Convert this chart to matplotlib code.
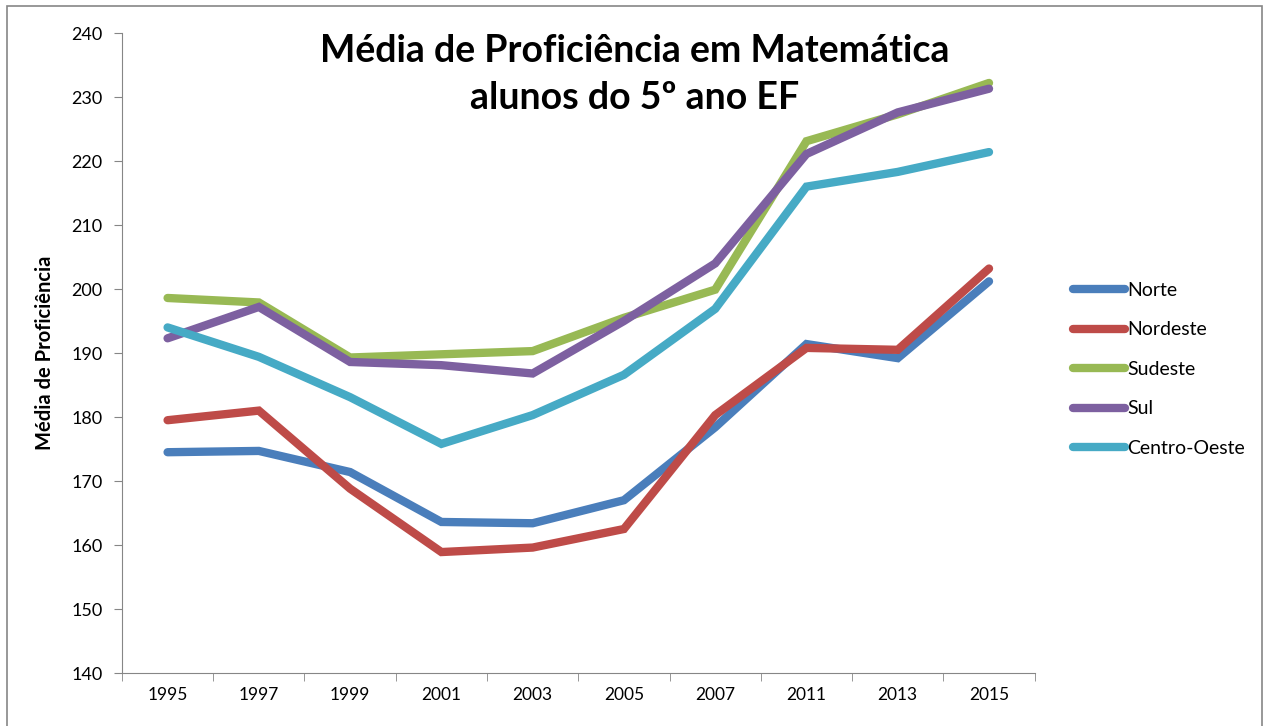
import numpy as np
import matplotlib
matplotlib.use("Agg")
import matplotlib.pyplot as plt
from matplotlib.patches import Rectangle

YEARS = ["1995", "1997", "1999", "2001", "2003", "2005", "2007", "2011", "2013", "2015"]

norte        = [174.5, 174.7, 171.4, 163.6, 163.4, 167.0, 178.4, 191.4, 189.2, 201.2]
nordeste     = [179.5, 181.0, 168.8, 158.9, 159.6, 162.5, 180.3, 190.8, 190.5, 203.2]
sudeste      = [198.6, 197.9, 189.3, 189.8, 190.3, 195.5, 199.9, 223.1, 227.3, 232.2]
sul          = [192.3, 197.2, 188.6, 188.1, 186.8, 195.0, 204.0, 221.1, 227.6, 231.3]
centro_oeste = [194.0, 189.4, 183.1, 175.8, 180.3, 186.6, 196.9, 216.0, 218.3, 221.4]

SERIES = [
    ("Norte",        norte,        "#4A7EBB"),
    ("Nordeste",     nordeste,     "#BE4B48"),
    ("Sudeste",      sudeste,      "#98B954"),
    ("Sul",          sul,          "#7D60A0"),
    ("Centro-Oeste", centro_oeste, "#46AAC5"),
]

plt.rcParams["font.family"] = ["Lato", "DejaVu Sans"]

fig = plt.figure(figsize=(12.65, 7.26), dpi=100)
ax = fig.add_axes([0.0964, 0.073, 0.7215, 0.8815])

x = np.arange(len(YEARS))
for name, vals, color in SERIES:
    ax.plot(x, vals, color=color, lw=6, solid_capstyle="round",
            solid_joinstyle="miter", label=name)

ax.set_xlim(-0.5, len(YEARS) - 0.5)
ax.set_ylim(140, 240)
ax.set_yticks(np.arange(140, 241, 10))
ax.set_xticks(x)
ax.set_xticklabels(YEARS, fontsize=12.5)
ax.set_xticks(np.arange(-0.5, len(YEARS), 1), minor=True)
ax.tick_params(axis="x", which="major", length=0, pad=10)
ax.tick_params(axis="x", which="minor", length=6, color="#868686", direction="out")
ax.tick_params(axis="y", length=6, color="#868686", labelsize=13, pad=8)

for s in ("top", "right"):
    ax.spines[s].set_visible(False)
for s in ("left", "bottom"):
    ax.spines[s].set_color("#868686")

ax.set_ylabel("Média de Proficiência", fontsize=14.5, fontweight="bold", labelpad=12)

# two-line title, placed line by line
fig.text(0.502, 0.930, "Média de Proficiência em Matemática",
         ha="center", va="center", fontsize=27, fontweight="bold")
fig.text(0.502, 0.865, "alunos do 5º ano EF",
         ha="center", va="center", fontsize=27, fontweight="bold")

leg = fig.legend(loc="upper left", bbox_to_anchor=(0.834, 0.636), frameon=False,
                 fontsize=14, handlelength=2.7, handletextpad=0.1, labelspacing=1.16)
for line in leg.get_lines():
    line.set_linewidth(6)
    line.set_solid_capstyle("round")

fig.patches.append(Rectangle((0.0055, -0.01), 0.992, 1.0018, transform=fig.transFigure,
                             fill=False, edgecolor="#868686", lw=1.2))

fig.savefig("out.png", dpi=100)
